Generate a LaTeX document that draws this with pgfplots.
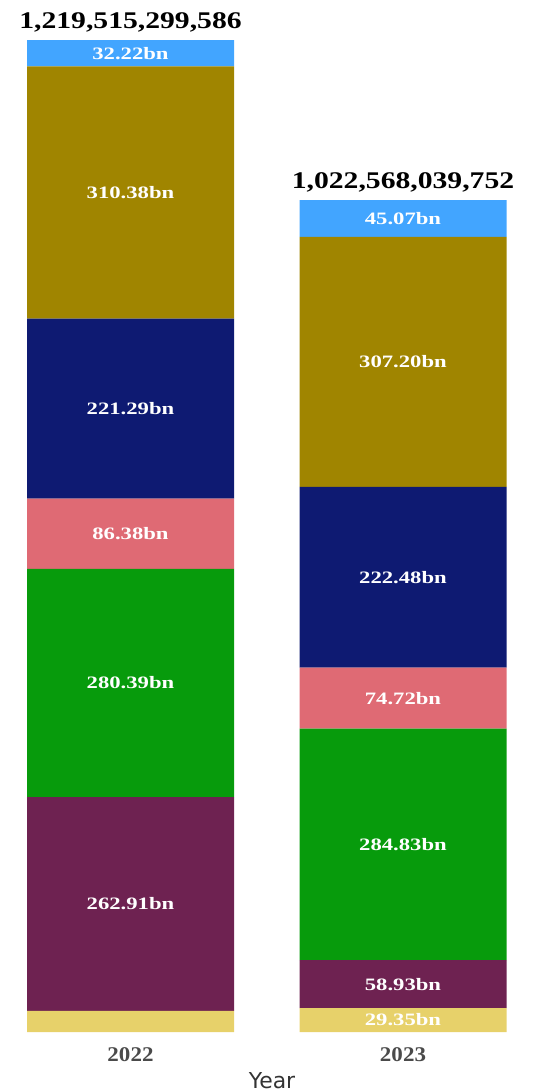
\documentclass[border=0pt]{standalone}
\usepackage{pgfplots}
\pgfplotsset{compat=1.18}
\usepackage{pgfplotstable}
\usepackage{fontspec}
\setmainfont{Liberation Serif}
\newfontfamily\yearfont{DejaVu Sans}
\definecolor{cyellow}{HTML}{E7D16A}
\definecolor{cpurple}{HTML}{6E2251}
\definecolor{cgreen}{HTML}{079B0C}
\definecolor{cpink}{HTML}{DF6A74}
\definecolor{cnavy}{HTML}{0E1A72}
\definecolor{colive}{HTML}{A08500}
\definecolor{cblue}{HTML}{42A5FF}
\definecolor{ctick}{HTML}{4A4A4A}
\definecolor{cyear}{HTML}{333333}

\pgfplotstableread{
x y lab
0 25.95 {}
1 29.35 29.35bn
}\tyellow
\pgfplotstableread{
x y lab
0 262.91 262.91bn
1 58.93 58.93bn
}\tpurple
\pgfplotstableread{
x y lab
0 280.39 280.39bn
1 284.83 284.83bn
}\tgreen
\pgfplotstableread{
x y lab
0 86.38 86.38bn
1 74.72 74.72bn
}\tpink
\pgfplotstableread{
x y lab
0 221.29 221.29bn
1 222.48 222.48bn
}\tnavy
\pgfplotstableread{
x y lab
0 310.38 310.38bn
1 307.20 307.20bn
}\tolive
\pgfplotstableread{
x y lab
0 32.22 32.22bn
1 45.07 45.07bn
}\tblue
\pgfplotstableread{
x y lab
0 1219.515 1,219,515,299,586
1 1022.568 1,022,568,039,752
}\ttotal

\pgfplotsset{commonax/.style={
  at={(0,60bp)}, anchor=south west,
  x=272.5bp, y=0.8134bp,
  xmin=-0.4789, xmax=1.4881, ymin=0, ymax=1268.7,
  bar width=207bp,
  axis line style={draw=none},
  major tick style={draw=none},
  ytick=\empty,
  clip=false,
}}

\begin{document}
\begin{tikzpicture}
\path[use as bounding box] (0,0) rectangle (536bp,1092bp);
\begin{axis}[
  commonax,
  ybar stacked,
  xtick={0,1}, xticklabels={2022,2023},
  xticklabel style={anchor=center, yshift=-23bp, text=ctick,
    font=\fontsize{21}{24}\selectfont\bfseries, xscale=1.1},
  xlabel={Year},
  xlabel style={at={(axis description cs:0.5,0)}, anchor=center, yshift=-49bp, xshift=4bp,
    text=cyear, font=\yearfont\fontsize{22}{26}\selectfont},
  point meta=explicit symbolic,
  nodes near coords,
  every node near coord/.append style={anchor=center,
    text=white, font=\fontsize{17.5}{20}\selectfont\bfseries, xscale=1.3},
]
\addplot[fill=cyellow, draw=none] table[x=x, y=y, meta=lab] {\tyellow};
\addplot[fill=cpurple, draw=none] table[x=x, y=y, meta=lab] {\tpurple};
\addplot[fill=cgreen, draw=none] table[x=x, y=y, meta=lab] {\tgreen};
\addplot[fill=cpink, draw=none] table[x=x, y=y, meta=lab] {\tpink};
\addplot[fill=cnavy, draw=none] table[x=x, y=y, meta=lab] {\tnavy};
\addplot[fill=colive, draw=none] table[x=x, y=y, meta=lab] {\tolive};
\addplot[fill=cblue, draw=none] table[x=x, y=y, meta=lab] {\tblue};
\end{axis}
\begin{axis}[
  commonax,
  xtick=\empty,
  point meta=explicit symbolic,
  nodes near coords,
  every node near coord/.append style={anchor=base, yshift=12bp, text=black,
    font=\fontsize{24}{28}\selectfont\bfseries, xscale=1.24},
]
\addplot[only marks, mark=none, draw=none] table[x=x, y=y, meta=lab] {\ttotal};
\end{axis}
\end{tikzpicture}
\end{document}
